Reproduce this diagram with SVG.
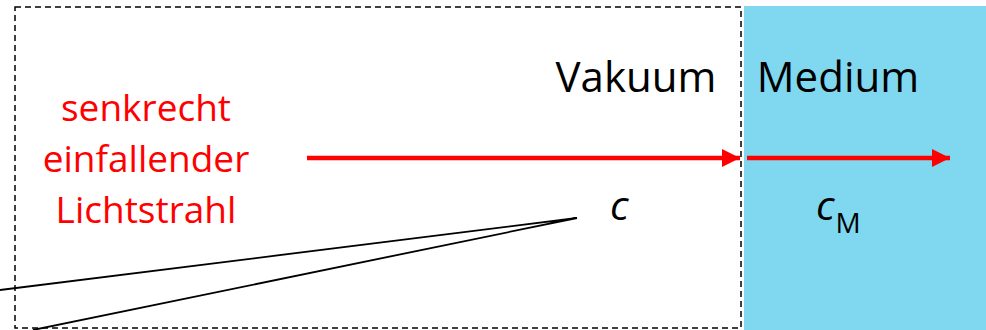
<svg xmlns="http://www.w3.org/2000/svg" width="986" height="330" viewBox="0 0 986 330">
<defs>
<style>
.t{font-family:"Open Sans","Noto Sans","Liberation Sans",sans-serif}
.red{fill:#FF0000}
.blk{fill:#000}
.ray{stroke:#FF0000;stroke-width:4.5;fill:none}
.ptr{stroke:#000;stroke-width:1.8;fill:none}
</style>
<marker id="ah" viewBox="0 0 10 10" refX="10" refY="5" markerWidth="4.2" markerHeight="4" markerUnits="strokeWidth" orient="auto">
<path d="M0,0 L10,5 L0,10 Z" fill="#FF0000"/>
</marker>
</defs>
<g id="medium">
<rect x="744" y="6" width="242" height="324" fill="#7FD8F0"/>
<text class="t blk" x="838" y="92" font-size="42" text-anchor="middle">Medium</text>
</g>
<g id="vakuum">
<rect x="15" y="7" width="726" height="321" fill="none" stroke="#000" stroke-width="1.5" stroke-dasharray="6,4"/>
<text class="t blk" x="636" y="92" font-size="42" text-anchor="middle">Vakuum</text>
</g>
<g id="label">
<text class="t red" x="146" y="121" font-size="37" text-anchor="middle">senkrecht</text>
<text class="t red" x="146" y="172" font-size="37" text-anchor="middle">einfallender</text>
<text class="t red" x="146" y="223" font-size="37" text-anchor="middle">Lichtstrahl</text>
</g>
<g id="c">
<text class="t blk" x="610" y="220" font-size="41" font-style="italic">c</text>
</g>
<g id="cM">
<text class="t blk" x="816" y="220" font-size="41" font-style="italic">c<tspan font-style="normal" font-size="28" dx="1" dy="13">M</tspan></text>
</g>
<g id="connectors">
<line class="ray" x1="307" y1="158" x2="740" y2="158" marker-end="url(#ah)"/>
<line class="ray" x1="747" y1="158" x2="950" y2="158" marker-end="url(#ah)"/>
<polyline class="ptr" points="0,290 577,218 33,330"/>
</g>
</svg>
